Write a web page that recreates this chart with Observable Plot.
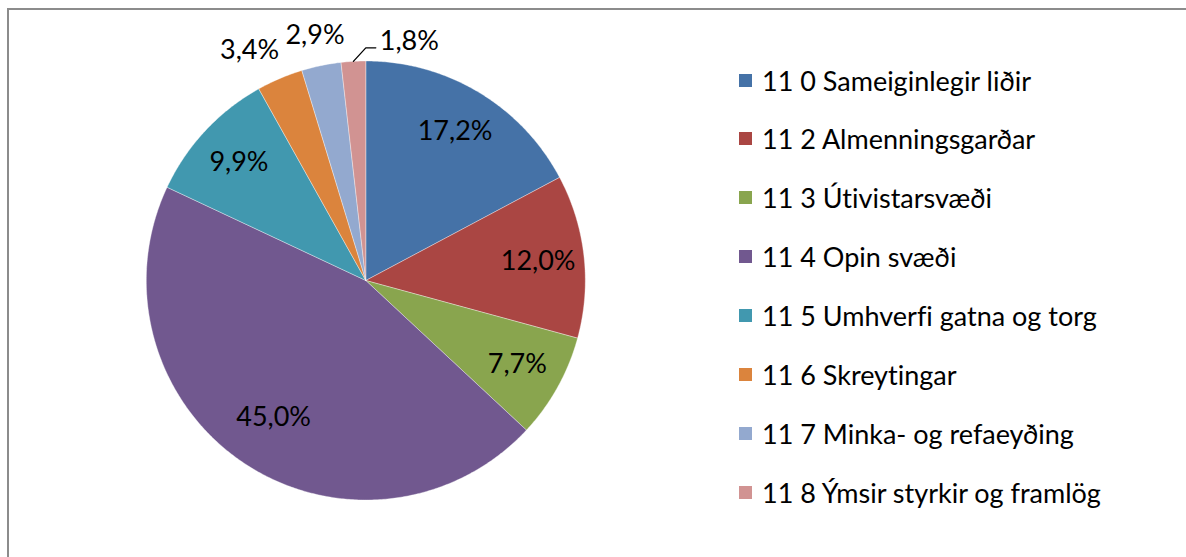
<!DOCTYPE html>
<html><head><meta charset="utf-8">
<script src="https://cdn.jsdelivr.net/npm/d3@7"></script>
<script src="https://cdn.jsdelivr.net/npm/@observablehq/plot@0.6"></script>
<style>
html,body{margin:0;padding:0;background:#fff;}
#wrap{position:relative;width:1186px;height:557px;overflow:hidden;font-family:Lato,sans-serif;background:#fff;font-variant-ligatures:none;font-feature-settings:"liga" 0,"dlig" 0,"clig" 0;}
#wrap svg text{font-variant-ligatures:none;font-feature-settings:"liga" 0,"dlig" 0,"clig" 0;}
#border{position:absolute;left:7px;top:8px;width:1300px;height:700px;border:2px solid #8c8c8c;box-sizing:border-box;z-index:2;}
#chart{position:absolute;left:0;top:0;z-index:1;}
#legend{position:absolute;left:739px;top:0;z-index:3;}
.item{position:absolute;left:0;display:flex;align-items:center;white-space:nowrap;font-size:27px;color:#000;height:30px;}
.sw{width:13px;height:13px;margin-right:10px;flex:none;}
</style></head><body>
<div id="wrap"><div id="border"></div><div id="chart"></div><div id="legend"></div></div>
<script>
// ---- data ----
const categories = [
  "11 0 Sameiginlegir liðir",
  "11 2 Almenningsgarðar",
  "11 3 Útivistarsvæði",
  "11 4 Opin svæði",
  "11 5 Umhverfi gatna og torg",
  "11 6 Skreytingar",
  "11 7 Minka- og refaeyðing",
  "11 8 Ýmsir styrkir og framlög"
];
const values = [17.2, 12.0, 7.7, 45.0, 9.9, 3.4, 2.9, 1.8];
const colors = ["#4572A7", "#AA4643", "#89A54E", "#71588F", "#4198AF", "#DB843D", "#93A9CF", "#D19392"];

// ---- layout ----
const W = 1186, H = 557;
const cx = 365.3, cy = 280, R = 219.5;
const fontSize = 27;
const fmt = v => d3.format(".1f")(v).replace(".", ",") + "%";

const arcs = d3.pie().sort(null).value(d => d)(values);
const polar = (a, k) => ({x: k * Math.sin(a), y: k * Math.cos(a)});

// slice polygons
const slicePts = [];
arcs.forEach((a, i) => {
  const name = categories[i];
  slicePts.push({name, x: 0, y: 0});
  const n = Math.max(2, Math.ceil((a.endAngle - a.startAngle) / (Math.PI / 360)));
  for (let j = 0; j <= n; j++) {
    const t = a.startAngle + (a.endAngle - a.startAngle) * j / n;
    slicePts.push({name, ...polar(t, 1)});
  }
  slicePts.push({name, x: 0, y: 0});
});

// labels
const inside = [], outside = [], leadered = [], leaderPts = [];
arcs.forEach((a, i) => {
  const mid = (a.startAngle + a.endAngle) / 2;
  const text = fmt(values[i]);
  if (values[i] >= 5) inside.push({text, ...polar(mid, values[i] > 30 ? 0.75 : 0.79)});
  else if (values[i] >= 2) outside.push({text, mid, ...polar(mid, 1.14)});
  else {
    const p0 = polar(mid, 1.0), p1 = polar(a.endAngle, 1.06);
    const p2 = {x: p1.x + 10 / R, y: p1.y};
    leaderPts.push({name: categories[i], ...p0}, {name: categories[i], ...p1}, {name: categories[i], ...p2});
    leadered.push({text, x: p2.x + 4 / R, y: p2.y + 6 / R});
  }
});
// simple collision avoidance for outside labels (push away from top, horizontally)
outside.sort((a, b) => Math.abs(Math.sin(a.mid)) - Math.abs(Math.sin(b.mid)));
const wOf = t => t.length * 0.55 * fontSize / R;
for (let i = 1; i < outside.length; i++) {
  const p = outside[i - 1], c = outside[i];
  const gap = 6 / R;
  const need = (wOf(p.text) + wOf(c.text)) / 2 + gap;
  const dir = Math.sin(c.mid) < 0 ? -1 : 1;
  const d = Math.abs(c.x - p.x);
  if (d < need && Math.abs(c.y - p.y) < 30 / R) c.x = p.x + dir * need;
}

const chart = Plot.plot({
  width: W, height: H, margin: 0,
  style: {background: "transparent", overflow: "visible"},
  x: {domain: [-1, 1], range: [cx - R, cx + R], axis: null},
  y: {domain: [-1, 1], range: [cy + R, cy - R], axis: null},
  color: {domain: categories, range: colors},
  marks: [
    Plot.line(slicePts, {x: "x", y: "y", z: "name", fill: "name", stroke: "white", strokeWidth: 0.6, strokeOpacity: 0.6, curve: "linear"}),
    Plot.line(leaderPts, {x: "x", y: "y", z: "name", stroke: "black", strokeWidth: 1.3, curve: "linear"}),
    Plot.text(inside, {x: "x", y: "y", text: "text", fontSize, fontFamily: "Lato", fill: "black", textAnchor: "middle", lineAnchor: "middle"}),
    Plot.text(outside, {x: "x", y: "y", text: "text", fontSize, fontFamily: "Lato", fill: "black", textAnchor: "middle", lineAnchor: "middle"}),
    Plot.text(leadered, {x: "x", y: "y", text: "text", fontSize, fontFamily: "Lato", fill: "black", textAnchor: "start", lineAnchor: "middle"})
  ]
});
document.getElementById("chart").appendChild(chart);

// legend
const legend = document.getElementById("legend");
const rowY0 = 80, rowStep = 58.9;
categories.forEach((c, i) => {
  const row = document.createElement("div");
  row.className = "item";
  row.style.top = (rowY0 + i * rowStep - 15) + "px";
  const sw = document.createElement("div");
  sw.className = "sw";
  sw.style.background = colors[i];
  const tx = document.createElement("span");
  tx.textContent = c;
  row.appendChild(sw); row.appendChild(tx);
  legend.appendChild(row);
});
</script>
</body></html>
